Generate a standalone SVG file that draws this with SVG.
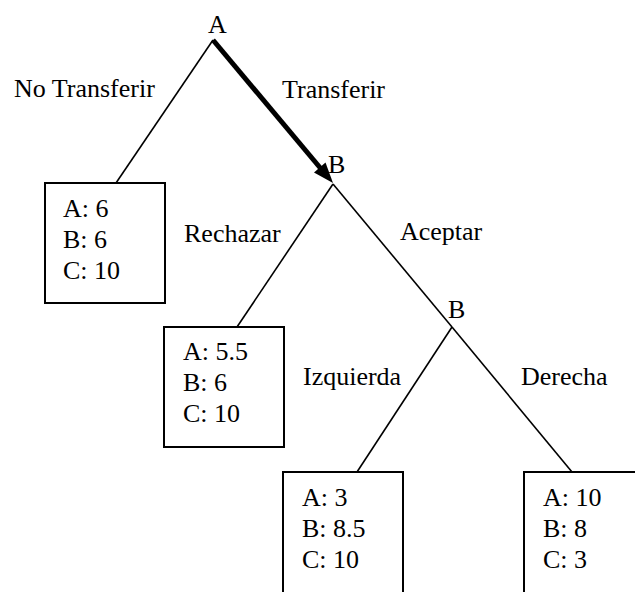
<svg xmlns="http://www.w3.org/2000/svg" width="635" height="592" viewBox="0 0 635 592">
  <style>
    .edge { stroke: #000; stroke-width: 1.6; fill: none; }
    .bold { stroke: #000; stroke-width: 5; fill: none; }
    .box { fill: #fff; stroke: #000; stroke-width: 2; }
  </style>
  <rect width="635" height="592" fill="#fff"/>

  <!-- connectors -->
  <g id="connectors">
    <line class="edge" x1="213" y1="40" x2="116" y2="183"/>
    <line class="bold" x1="213" y1="40" x2="322" y2="170"/>
    <polygon points="333,183 325.5,162.5 314,172.5" fill="#000"/>
    <line class="edge" x1="333" y1="184" x2="237" y2="327"/>
    <line class="edge" x1="333" y1="184" x2="452" y2="327"/>
    <line class="edge" x1="452" y1="327" x2="357" y2="472"/>
    <line class="edge" x1="452" y1="327" x2="572" y2="472"/>
  </g>

  <g font-family="'Liberation Serif', 'Times New Roman', serif" font-size="26" fill="#000">
    <!-- edge labels -->
    <g id="edge-labels">
      <text x="14" y="97" font-family="'Liberation Serif', serif">No Transferir</text>
      <text x="282" y="98" font-family="'Liberation Serif', serif">Transferir</text>
      <text x="184" y="242" font-family="'Liberation Serif', serif">Rechazar</text>
      <text x="400" y="240" font-family="'Liberation Serif', serif">Aceptar</text>
      <text x="303" y="385" font-family="'Liberation Serif', serif">Izquierda</text>
      <text x="521" y="385" font-family="'Liberation Serif', serif">Derecha</text>
    </g>

    <!-- decision nodes -->
    <g id="node-a"><text x="208" y="33" font-family="'Liberation Serif', serif">A</text></g>
    <g id="node-b1"><text x="328" y="173" font-family="'Liberation Serif', serif">B</text></g>
    <g id="node-b2"><text x="448" y="318" font-family="'Liberation Serif', serif">B</text></g>

    <!-- payoff leaves -->
    <g id="leaf-no-transferir" font-family="'Liberation Serif', serif">
      <rect class="box" x="45" y="183" width="120" height="120"/>
      <text x="63" y="217">A: 6</text>
      <text x="63" y="248">B: 6</text>
      <text x="63" y="279">C: 10</text>
    </g>
    <g id="leaf-rechazar" font-family="'Liberation Serif', serif">
      <rect class="box" x="164" y="327" width="120" height="120"/>
      <text x="183" y="360">A: 5.5</text>
      <text x="183" y="391">B: 6</text>
      <text x="183" y="422">C: 10</text>
    </g>
    <g id="leaf-izquierda" font-family="'Liberation Serif', serif">
      <rect class="box" x="283" y="472" width="120" height="140"/>
      <text x="302" y="506">A: 3</text>
      <text x="302" y="537">B: 8.5</text>
      <text x="302" y="568">C: 10</text>
    </g>
    <g id="leaf-derecha" font-family="'Liberation Serif', serif">
      <rect class="box" x="524" y="472" width="140" height="140"/>
      <text x="543" y="506">A: 10</text>
      <text x="543" y="537">B: 8</text>
      <text x="543" y="568">C: 3</text>
    </g>
  </g>
</svg>
